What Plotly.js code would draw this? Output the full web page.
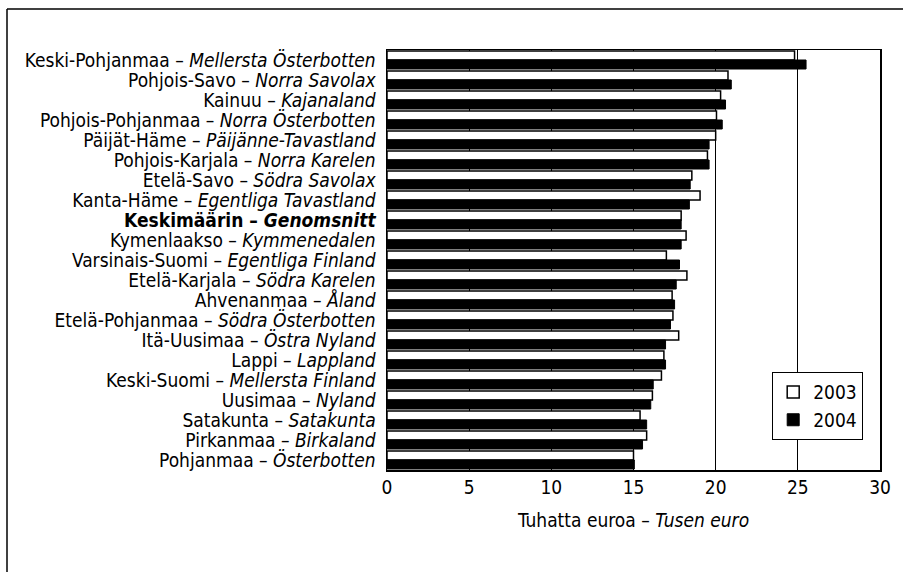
<!DOCTYPE html>
<html>
<head>
<meta charset="utf-8">
<script src="https://cdn.plot.ly/plotly-3.0.1.min.js"></script>
<style>
html,body{margin:0;padding:0;background:#fff;}
#chart{width:903px;height:572px;}
</style>
</head>
<body>
<div id="chart"></div>
<script>
// Categories, top to bottom
var regions = [
  "Keski-Pohjanmaa – <i>Mellersta Österbotten</i>",
  "Pohjois-Savo – <i>Norra Savolax</i>",
  "Kainuu – <i>Kajanaland</i>",
  "Pohjois-Pohjanmaa – <i>Norra Österbotten</i>",
  "Päijät-Häme – <i>Päijänne-Tavastland</i>",
  "Pohjois-Karjala – <i>Norra Karelen</i>",
  "Etelä-Savo – <i>Södra Savolax</i>",
  "Kanta-Häme – <i>Egentliga Tavastland</i>",
  "<b>Keskimäärin – <i>Genomsnitt</i></b>",
  "Kymenlaakso – <i>Kymmenedalen</i>",
  "Varsinais-Suomi – <i>Egentliga Finland</i>",
  "Etelä-Karjala – <i>Södra Karelen</i>",
  "Ahvenanmaa – <i>Åland</i>",
  "Etelä-Pohjanmaa – <i>Södra Österbotten</i>",
  "Itä-Uusimaa – <i>Östra Nyland</i>",
  "Lappi – <i>Lappland</i>",
  "Keski-Suomi – <i>Mellersta Finland</i>",
  "Uusimaa – <i>Nyland</i>",
  "Satakunta – <i>Satakunta</i>",
  "Pirkanmaa – <i>Birkaland</i>",
  "Pohjanmaa – <i>Österbotten</i>"
];
var values2003 = [24.8, 20.75, 20.3, 20.05, 20.0, 19.5, 18.55, 19.05, 17.9, 18.2, 17.0, 18.25, 17.35, 17.4, 17.75, 16.85, 16.7, 16.15, 15.4, 15.8, 15.0];
var values2004 = [25.5, 20.95, 20.6, 20.4, 19.6, 19.6, 18.45, 18.4, 17.9, 17.9, 17.8, 17.6, 17.5, 17.25, 16.95, 16.95, 16.2, 16.05, 15.8, 15.55, 15.05];
var seriesNames = ["2003", "2004"];
var xTitle = "Tuhatta euroa – <i>Tusen euro</i>";

var FONT = "'DejaVu Sans Condensed', 'Liberation Sans', Arial, sans-serif";

var traces = [
  {
    type: "bar", orientation: "h", name: seriesNames[0],
    y: regions, x: values2003,
    marker: {color: "#ffffff", line: {color: "#000000", width: 1.5}},
    hoverinfo: "x+y"
  },
  {
    type: "bar", orientation: "h", name: seriesNames[1],
    y: regions, x: values2004,
    marker: {color: "#000000", line: {color: "#000000", width: 1}},
    hoverinfo: "x+y"
  }
];

var L = 387, R = 880, T = 50, B = 470;
function px2x(px){ return (px - L) / (R - L); }
function px2y(py){ return (B - py) / (B - T); }

var layout = {
  width: 903, height: 572,
  margin: {l: L, r: 903 - R, t: T, b: 572 - B, pad: 0},
  paper_bgcolor: "#ffffff", plot_bgcolor: "#ffffff",
  font: {family: FONT, size: 19, color: "#000000"},
  barmode: "group",
  bargap: 0.1,
  bargroupgap: 0,
  showlegend: true,
  legend: {
    x: px2x(772), y: px2y(372), xanchor: "left", yanchor: "top",
    bordercolor: "#000000", borderwidth: 1.2, bgcolor: "#ffffff",
    font: {family: FONT, size: 19, color: "#000000"},
    itemwidth: 30,
    tracegroupgap: 0
  },
  xaxis: {
    range: [0, 30], dtick: 5, tick0: 0,
    showgrid: true, gridcolor: "#000000", gridwidth: 1,
    zeroline: false,
    showline: true, mirror: true, linecolor: "#000000", linewidth: 1.5,
    ticks: "", ticklabelstandoff: 0,
    tickfont: {family: FONT, size: 19, color: "#000000"},
    title: {text: xTitle, font: {family: FONT, size: 19, color: "#000000"}, standoff: 16},
    fixedrange: true
  },
  yaxis: {
    type: "category", autorange: "reversed",
    tickmode: "linear", dtick: 1, tick0: 0,
    showgrid: false, zeroline: false,
    showline: true, mirror: true, linecolor: "#000000", linewidth: 1.5,
    ticks: "", ticklabelstandoff: 6,
    tickfont: {family: FONT, size: 19, color: "#000000"},
    fixedrange: true
  },
  shapes: [
    {type: "line", xref: "paper", yref: "paper", x0: px2x(7), x1: px2x(7), y0: px2y(9), y1: px2y(572), line: {color: "#000000", width: 1.5}},
    {type: "line", xref: "paper", yref: "paper", x0: px2x(7), x1: px2x(903), y0: px2y(9), y1: px2y(9), line: {color: "#000000", width: 1.5}}
  ]
};

Plotly.newPlot("chart", traces, layout, {displayModeBar: false, staticPlot: true});
</script>
</body>
</html>
